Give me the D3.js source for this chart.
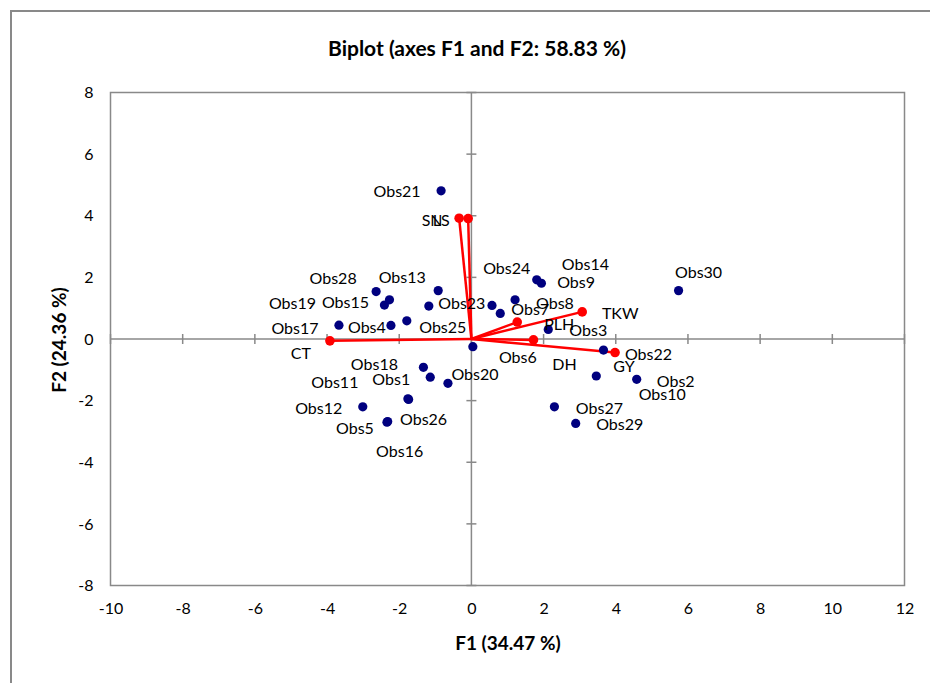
<!DOCTYPE html>
<html>
<head>
<meta charset="utf-8">
<script src="https://cdn.jsdelivr.net/npm/d3@7"></script>
<style>
  body { margin: 0; background: #fff; }
  text { font-family: Lato, "Open Sans", sans-serif; fill: #000; }
</style>
</head>
<body>
<div id="chart"></div>
<script>
const obsNames = ["Obs1","Obs2","Obs3","Obs4","Obs5","Obs6","Obs7","Obs8","Obs9","Obs10",
  "Obs11","Obs12","Obs13","Obs14","Obs15","Obs16","Obs17","Obs18","Obs19","Obs20",
  "Obs21","Obs22","Obs23","Obs24","Obs25","Obs26","Obs27","Obs28","Obs29","Obs30"];
const obsF1 = [-1.14, 4.58, 2.13, -2.23, -2.34, 0.04, 0.80, 0.57, 1.21, 3.46,
  -1.76, -3.01, -0.92, 1.94, -2.27, -2.32, -3.67, -1.33, -2.41, -0.65,
  -0.84, 3.66, -1.18, 1.81, -1.79, -1.74, 2.30, -2.64, 2.89, 5.74];
const obsF2 = [-1.24, -1.31, 0.31, 0.44, -2.70, -0.25, 0.83, 1.09, 1.27, -1.20,
  -1.94, -2.20, 1.57, 1.81, 1.27, -2.68, 0.45, -0.92, 1.10, -1.44,
  4.81, -0.36, 1.07, 1.92, 0.59, -1.96, -2.20, 1.54, -2.74, 1.57];

// variables (loadings as drawn)
const varNames = ["SN", "LS", "CT", "TKW", "PLH", "DH", "GY"];
const varF1 = [-0.34, -0.09, -3.92, 3.07, 1.27, 1.72, 3.98];
const varF2 = [3.92, 3.91, -0.06, 0.88, 0.55, -0.03, -0.44];

const xTicks = [-10, -8, -6, -4, -2, 0, 2, 4, 6, 8, 10, 12];
const yTicks = [-8, -6, -4, -2, 0, 2, 4, 6, 8];

// label placement (pixel offsets of label centre from its point)
const obsLabelOffset = {
  Obs1: [-39, 1], Obs2: [39, 1], Obs3: [40, 0], Obs4: [-24, 1], Obs5: [-32, 5],
  Obs6: [45, 10], Obs7: [30, -5], Obs8: [63, -3], Obs9: [61, -18], Obs10: [66, 18],
  Obs11: [-73, -17], Obs12: [-44, 1], Obs13: [-36, -14], Obs14: [44, -20], Obs15: [-44, 2],
  Obs16: [12, 29], Obs17: [-44, 2], Obs18: [-49, -4], Obs19: [-92, -3], Obs20: [27, -10],
  Obs21: [-44, 0], Obs22: [45, 3], Obs23: [33, -4], Obs24: [-30, -12], Obs25: [36, 6],
  Obs26: [15, 19], Obs27: [45, 1], Obs28: [-43, -14], Obs29: [44, 0], Obs30: [20, -19]
};
const varLabelOffset = {
  SN: [-27, 1], LS: [-27, 1], CT: [-29, 12], TKW: [38, 1], PLH: [42, 1], DH: [31, 24], GY: [9, 13]
};

const width = 930, height = 683;
const svg = d3.select("#chart")
  .append("svg")
  .attr("width", width)
  .attr("height", height);

const xScale = d3.scaleLinear().domain([-10, 12]).range([110.5, 904.5]);
const yScale = d3.scaleLinear().domain([-8, 8]).range([585.5, 92.5]);
const grey = "#898989";

// outer chart frame (only left and top edges visible)
svg.append("path")
  .attr("d", "M11,683V11H930")
  .attr("fill", "none")
  .attr("stroke", grey)
  .attr("stroke-width", 2);

// plot area border
svg.append("rect")
  .attr("x", xScale(-10))
  .attr("y", yScale(8))
  .attr("width", xScale(12) - xScale(-10))
  .attr("height", yScale(-8) - yScale(8))
  .attr("fill", "none")
  .attr("stroke", grey)
  .attr("stroke-width", 1.5);

// tick labels via axes on the plot edges
const xAxis = d3.axisBottom(xScale).tickValues(xTicks).tickSize(0).tickPadding(17)
  .tickFormat(d => String(d));
const yAxis = d3.axisLeft(yScale).tickValues(yTicks).tickSize(0).tickPadding(17)
  .tickFormat(d => String(d));

svg.append("g")
  .attr("transform", `translate(0,${yScale(-8)})`)
  .call(xAxis)
  .call(g => g.select(".domain").remove())
  .selectAll("text")
  .style("font-family", "Lato, sans-serif")
  .style("font-size", "16px")
  .attr("fill", "#000");

svg.append("g")
  .attr("transform", `translate(${xScale(-10)},0)`)
  .call(yAxis)
  .call(g => g.select(".domain").remove())
  .selectAll("text")
  .style("font-family", "Lato, sans-serif")
  .style("font-size", "16px")
  .attr("fill", "#000");

// zero axes with crossing tick marks
svg.append("line")
  .attr("x1", xScale(-10)).attr("x2", xScale(12))
  .attr("y1", yScale(0)).attr("y2", yScale(0))
  .attr("stroke", grey).attr("stroke-width", 1.5);
svg.append("line")
  .attr("x1", xScale(0)).attr("x2", xScale(0))
  .attr("y1", yScale(8)).attr("y2", yScale(-8))
  .attr("stroke", grey).attr("stroke-width", 1.5);

svg.append("g").selectAll("line")
  .data(xTicks)
  .join("line")
  .attr("x1", d => xScale(d)).attr("x2", d => xScale(d))
  .attr("y1", yScale(0) - 5).attr("y2", yScale(0) + 5)
  .attr("stroke", grey).attr("stroke-width", 1.5);

svg.append("g").selectAll("line")
  .data(yTicks)
  .join("line")
  .attr("y1", d => yScale(d)).attr("y2", d => yScale(d))
  .attr("x1", xScale(0) - 5).attr("x2", xScale(0) + 5)
  .attr("stroke", grey).attr("stroke-width", 1.5);

// variable vectors
const vars = varNames.map((name, i) => ({name, f1: varF1[i], f2: varF2[i]}));
const obs = obsNames.map((name, i) => ({name, f1: obsF1[i], f2: obsF2[i]}));

svg.append("g").selectAll("line")
  .data(vars)
  .join("line")
  .attr("x1", xScale(0)).attr("y1", yScale(0))
  .attr("x2", d => xScale(d.f1)).attr("y2", d => yScale(d.f2))
  .attr("stroke", "#ff0000")
  .attr("stroke-width", 2.5);

svg.append("g").selectAll("circle")
  .data(vars)
  .join("circle")
  .attr("cx", d => xScale(d.f1))
  .attr("cy", d => yScale(d.f2))
  .attr("r", 4.8)
  .attr("fill", "#ff0000");

// observation points
svg.append("g").selectAll("circle")
  .data(obs)
  .join("circle")
  .attr("cx", d => xScale(d.f1))
  .attr("cy", d => yScale(d.f2))
  .attr("r", 4.6)
  .attr("fill", "#00007f");

// labels
svg.append("g").selectAll("text")
  .data(obs)
  .join("text")
  .attr("x", d => xScale(d.f1) + obsLabelOffset[d.name][0])
  .attr("y", d => yScale(d.f2) + obsLabelOffset[d.name][1])
  .attr("text-anchor", "middle")
  .attr("dominant-baseline", "central")
  .style("font-size", "16px")
  .text(d => d.name);

svg.append("g").selectAll("text")
  .data(vars)
  .join("text")
  .attr("x", d => xScale(d.f1) + varLabelOffset[d.name][0])
  .attr("y", d => yScale(d.f2) + varLabelOffset[d.name][1])
  .attr("text-anchor", "middle")
  .attr("dominant-baseline", "central")
  .style("font-size", "16px")
  .text(d => d.name);

// titles
svg.append("text")
  .attr("x", 477)
  .attr("y", 47)
  .attr("text-anchor", "middle")
  .attr("dominant-baseline", "central")
  .style("font-size", "21px")
  .style("font-weight", "bold")
  .text("Biplot (axes F1 and F2: 58.83 %)");

svg.append("text")
  .attr("x", 508)
  .attr("y", 642)
  .attr("text-anchor", "middle")
  .attr("dominant-baseline", "central")
  .style("font-size", "19px")
  .style("font-weight", "bold")
  .text("F1 (34.47 %)");

svg.append("text")
  .attr("transform", "translate(58,340) rotate(-90)")
  .attr("text-anchor", "middle")
  .attr("dominant-baseline", "central")
  .style("font-size", "19px")
  .style("font-weight", "bold")
  .text("F2 (24.36 %)");
</script>
</body>
</html>
